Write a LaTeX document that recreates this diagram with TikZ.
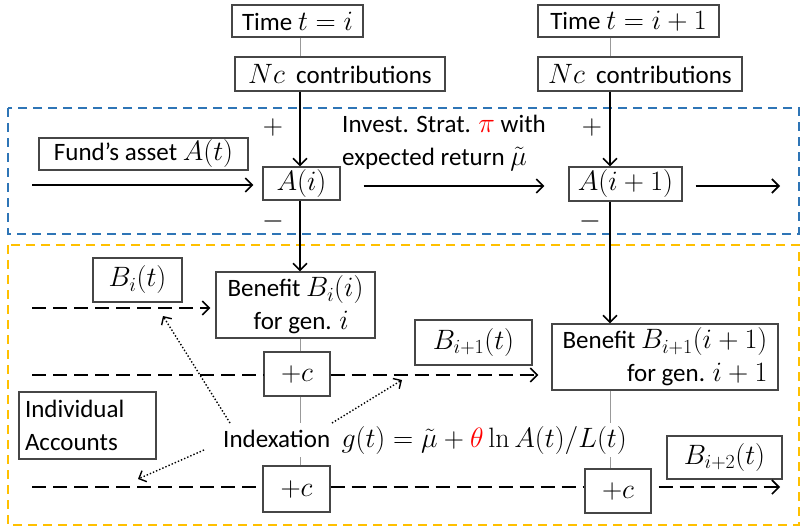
\RequirePackage{fix-cm}
\documentclass[tikz,border=0pt]{standalone}
\usepackage[no-math]{fontspec}
\setmainfont{Carlito}
\DeclareMathSizes{25}{28}{20}{15}
\usetikzlibrary{arrows.meta}
\definecolor{bluebox}{RGB}{46,117,182}
\definecolor{yellowbox}{RGB}{255,192,0}
\definecolor{boxline}{RGB}{70,70,70}
\begin{document}
\begin{tikzpicture}[x=1pt,y=-1pt,
  every node/.style={font=\fontsize{25}{33}\selectfont},
  box/.style={draw=boxline,line width=1.2pt,inner sep=1pt},
  arr/.style={line width=1.6pt,-{Straight Barb[length=7pt,width=14pt,line width=1.6pt]}},
  dasharr/.style={line width=1.6pt,dash pattern=on 14pt off 7pt,-{Straight Barb[length=7pt,width=14pt,line width=1.6pt]}},
  dashline/.style={line width=1.6pt,dash pattern=on 14pt off 7pt},
  dotarr/.style={line width=1.4pt,dotted,-{Straight Barb[length=6pt,width=12pt,line width=1.4pt]}},
  thin gray/.style={draw=black!40,line width=0.8pt},
  region/.style={line width=1.8pt,dash pattern=on 9pt off 6pt}]
\useasboundingbox (0,0) rectangle (800,529);

% regions
\draw[region,draw=bluebox] (8,108) rectangle (799,234);
\draw[region,draw=yellowbox] (8,245) rectangle (799,525);

% column coordinates
\coordinate (k1) at (300,0);
\coordinate (k2) at (610,0);

% top boxes
\node[box,minimum width=131,minimum height=32] (time1) at (297.5,21) {Time $t=i$};
\node[box,minimum width=210,minimum height=34] (nc1) at (340,74) {$Nc$\ \ contributions};
\node[box,minimum width=181,minimum height=32] (time2) at (628.5,21) {Time $t=i+1$};
\node[box,minimum width=204,minimum height=34] (nc2) at (640,74) {$Nc$\ \ contributions};

% fund row
\node[box,minimum width=209,minimum height=32] (fund) at (143.5,154) {Fund’s asset $A(t)$};
\node[box,minimum width=77,minimum height=33] (Ai) at (301.5,183.5) {$A(i)$};
\node[box,minimum width=113,minimum height=34] (Ai1) at (625.5,184) {$A(i+1)$};
\node[anchor=west,align=left,inner sep=0pt] (invest) at (342,143)
  {Invest. Strat. {\color{red}$\pi$} with\\expected return $\tilde\mu$};

\node (p1) at (273,128) {$+$};
\node (p2) at (592,128) {$+$};
\node (m1) at (273,222) {$-$};
\node (m2) at (590,222) {$-$};

% lower boxes
\node[box,minimum width=89,minimum height=44] (Bit) at (137.5,280) {$B_i(t)$};
\node[box,minimum width=159,minimum height=66,align=center,inner sep=0pt] (Bi) at (295.5,305)
  {Benefit $B_i(i)$\\\ \ for gen. $i$};
\node[box,minimum width=117,minimum height=45] (Bi1t) at (473.5,342.5) {$B_{i+1}(t)$};
\node[box,minimum width=226,minimum height=66,align=right,inner sep=0pt] (Bi1) at (665,357)
  {Benefit $B_{i+1}(i+1)$\\for gen. $i+1$};
\node[box,minimum width=66,minimum height=44] (c1) at (297,374) {$+c$};
\node[box,text width=125,inner xsep=6pt,inner ysep=0pt,minimum height=67,align=left] (indiv) at (87.5,425.5)
  {Individual\\Accounts};
\node[minimum height=34,inner sep=0pt] (idx) at (425,440)
  {Indexation\ \ $g(t)=\tilde\mu+{\color{red}\theta}\ln A(t)/L(t)$};
\node[box,minimum width=115,minimum height=43] (Bi2t) at (724.5,457.5) {$B_{i+2}(t)$};
\node[box,minimum width=67,minimum height=46] (c2) at (296.5,489) {$+c$};
\node[box,minimum width=66,minimum height=44] (c3) at (618,491) {$+c$};

% free ends
\coordinate (s0) at (32,185);
\coordinate (e0) at (780,186);
\coordinate (s1) at (32,308);
\coordinate (s2) at (32,375);
\coordinate (s3) at (32,487);
\coordinate (e3) at (780,487);
\coordinate (t1) at (163,316);
\coordinate (t2) at (402,380);
\coordinate (t3) at (138,479);
\coordinate (ix1) at (230,423);
\coordinate (ix2) at (332,423);
\coordinate (ix3) at (204,450);

% gray vertical links
\draw[thin gray] (k1 |- time1.south) -- (k1 |- nc1.north);
\draw[thin gray] (k2 |- time2.south) -- (k2 |- nc2.north);
\draw[thin gray] (k1 |- Bi.south) -- (k1 |- c1.north);
\draw[thin gray] (k1 |- c1.south) -- (k1 |- idx.north);
\draw[thin gray] (k1 |- idx.south) -- (k1 |- c2.north);
\draw[thin gray] (k2 |- Bi1.south) -- (k2 |- idx.north);
\draw[thin gray] (k2 |- idx.south) -- (k2 |- c3.north);

% solid arrows
\draw[arr] (k1 |- nc1.south) -- (k1 |- Ai.north);
\draw[arr] (k2 |- nc2.south) -- (k2 |- Ai1.north);
\draw[arr] (k1 |- Ai.south) -- (k1 |- Bi.north);
\draw[arr] (k2 |- Ai1.south) -- (k2 |- Bi1.north);
\draw[arr,shorten >=9pt] (s0) -- (s0 -| Ai.west);
\draw[arr,shorten <=23pt,shorten >=24pt] (Ai.east |- e0) -- (Ai1.west |- e0);
\draw[arr,shorten <=13pt] (Ai1.east |- e0) -- (e0);

% dashed account lines
\draw[dasharr,shorten >=5pt] (s1) -- (s1 -| Bi.west);
\draw[dashline] (s2) -- (s2 -| c1.west);
\draw[dasharr,shorten >=13pt] (c1.east |- s2) -- (Bi1.west |- s2);
\draw[dashline] (s3) -- (s3 -| c2.west);
\draw[dashline] (c2.east |- s3) -- (c3.west |- s3);
\draw[dasharr,shorten <=7pt] (c3.east |- s3) -- (e3);

% dotted indexation arrows
\draw[dotarr] (ix1) -- (t1);
\draw[dotarr] (ix2) -- (t2);
\draw[dotarr] (ix3) -- (t3);
\end{tikzpicture}
\end{document}
